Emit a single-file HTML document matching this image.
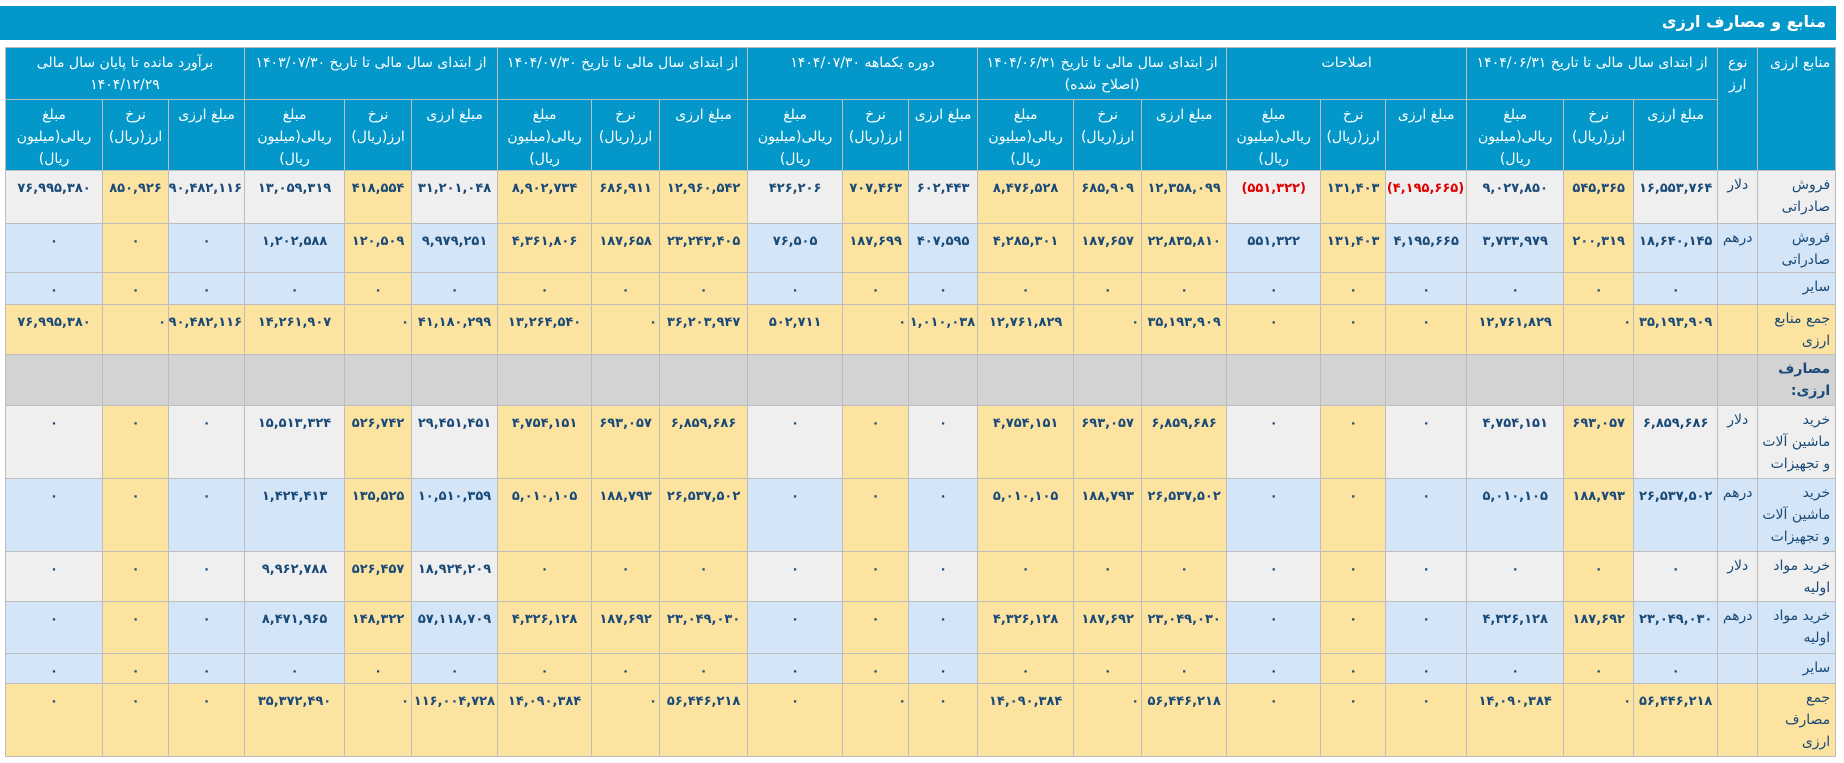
<!DOCTYPE html>
<html><head><meta charset="utf-8">
<style>
body{margin:0;width:1844px;height:763px;background:#fff;overflow:hidden;font-family:"DejaVu Sans","Liberation Sans",sans-serif;}
.bar{position:absolute;left:0;top:6px;width:1836px;height:34px;background:#0398c9;color:#fff;font-weight:bold;font-size:16px;direction:rtl;}
.bar span{position:absolute;right:10px;top:6px;}
table{position:absolute;left:5px;top:47px;width:1830px;border-collapse:collapse;table-layout:fixed;direction:rtl;}
th,td{border:1px solid #bdbdbd;padding:0 2px;overflow:hidden;}
th{background:#0398c9;color:#fff;font-weight:normal;font-size:14px;line-height:22px;vertical-align:top;text-align:center;padding-top:4px;}
td{font-size:13px;font-weight:bold;color:#1a4a78;vertical-align:top;text-align:center;padding-top:8px;line-height:20px;white-space:nowrap;}
td:first-child{text-align:right;font-weight:normal;font-size:14px;white-space:normal;padding-right:5px;padding-top:3px;line-height:22px;}
td:nth-child(2){font-weight:normal;font-size:14px;padding-top:4px;}
tr.g td{background:#efefef;}
tr.b td{background:#d3e5f6;}
tr.t td{background:#fde3a0;}
tr.s td{background:#d3d3d3;}
tr.g td:nth-child(4),tr.g td:nth-child(7),tr.g td:nth-child(9),tr.g td:nth-child(10),tr.g td:nth-child(11),tr.g td:nth-child(13),tr.g td:nth-child(15),tr.g td:nth-child(16),tr.g td:nth-child(17),tr.g td:nth-child(19),tr.g td:nth-child(22),
tr.b td:nth-child(4),tr.b td:nth-child(7),tr.b td:nth-child(9),tr.b td:nth-child(10),tr.b td:nth-child(11),tr.b td:nth-child(13),tr.b td:nth-child(15),tr.b td:nth-child(16),tr.b td:nth-child(17),tr.b td:nth-child(19),tr.b td:nth-child(22){background:#fde3a0;}
.r{color:#e00000;}
td.z{text-align:right;}
</style></head><body>
<div class="bar"><span>منابع و مصارف ارزی</span></div>
<table>
<colgroup>
<col style="width:78px"><col style="width:40px">
<col style="width:84px"><col style="width:70px"><col style="width:97px">
<col style="width:81px"><col style="width:65px"><col style="width:94px">
<col style="width:85px"><col style="width:68px"><col style="width:96px">
<col style="width:69px"><col style="width:66px"><col style="width:95px">
<col style="width:88px"><col style="width:68px"><col style="width:94px">
<col style="width:86px"><col style="width:67px"><col style="width:100px">
<col style="width:76px"><col style="width:66px"><col style="width:97px">
</colgroup>
<tr style="height:52px">
<th rowspan="2" style="text-align:right;padding-right:5px">منابع ارزی</th>
<th rowspan="2">نوع ارز</th>
<th colspan="3">از ابتدای سال مالی تا تاریخ ۱۴۰۴/۰۶/۳۱</th>
<th colspan="3">اصلاحات</th>
<th colspan="3">از ابتدای سال مالی تا تاریخ ۱۴۰۴/۰۶/۳۱ (اصلاح شده)</th>
<th colspan="3">دوره یکماهه ۱۴۰۴/۰۷/۳۰</th>
<th colspan="3">از ابتدای سال مالی تا تاریخ ۱۴۰۴/۰۷/۳۰</th>
<th colspan="3">از ابتدای سال مالی تا تاریخ ۱۴۰۳/۰۷/۳۰</th>
<th colspan="3">برآورد مانده تا پایان سال مالی ۱۴۰۴/۱۲/۲۹</th>
</tr>
<tr style="height:71px">
<th>مبلغ ارزی</th><th>نرخ ارز(ریال)</th><th>مبلغ ریالی(میلیون ریال)</th>
<th>مبلغ ارزی</th><th>نرخ ارز(ریال)</th><th>مبلغ ریالی(میلیون ریال)</th>
<th>مبلغ ارزی</th><th>نرخ ارز(ریال)</th><th>مبلغ ریالی(میلیون ریال)</th>
<th>مبلغ ارزی</th><th>نرخ ارز(ریال)</th><th>مبلغ ریالی(میلیون ریال)</th>
<th>مبلغ ارزی</th><th>نرخ ارز(ریال)</th><th>مبلغ ریالی(میلیون ریال)</th>
<th>مبلغ ارزی</th><th>نرخ ارز(ریال)</th><th>مبلغ ریالی(میلیون ریال)</th>
<th>مبلغ ارزی</th><th>نرخ ارز(ریال)</th><th>مبلغ ریالی(میلیون ریال)</th>
</tr>
<tr class="g" style="height:53px"><td>فروش صادراتی</td><td>دلار</td>
<td>۱۶,۵۵۳,۷۶۴</td><td>۵۴۵,۳۶۵</td><td>۹,۰۲۷,۸۵۰</td>
<td class="r">(۴,۱۹۵,۶۶۵)</td><td>۱۳۱,۴۰۳</td><td class="r">(۵۵۱,۳۲۲)</td>
<td>۱۲,۳۵۸,۰۹۹</td><td>۶۸۵,۹۰۹</td><td>۸,۴۷۶,۵۲۸</td>
<td>۶۰۲,۴۴۳</td><td>۷۰۷,۴۶۳</td><td>۴۲۶,۲۰۶</td>
<td>۱۲,۹۶۰,۵۴۲</td><td>۶۸۶,۹۱۱</td><td>۸,۹۰۲,۷۳۴</td>
<td>۳۱,۲۰۱,۰۴۸</td><td>۴۱۸,۵۵۴</td><td>۱۳,۰۵۹,۳۱۹</td>
<td>۹۰,۴۸۲,۱۱۶</td><td>۸۵۰,۹۲۶</td><td>۷۶,۹۹۵,۳۸۰</td></tr>
<tr class="b" style="height:49px"><td>فروش صادراتی</td><td>درهم</td>
<td>۱۸,۶۴۰,۱۴۵</td><td>۲۰۰,۳۱۹</td><td>۳,۷۳۳,۹۷۹</td>
<td>۴,۱۹۵,۶۶۵</td><td>۱۳۱,۴۰۳</td><td>۵۵۱,۳۲۲</td>
<td>۲۲,۸۳۵,۸۱۰</td><td>۱۸۷,۶۵۷</td><td>۴,۲۸۵,۳۰۱</td>
<td>۴۰۷,۵۹۵</td><td>۱۸۷,۶۹۹</td><td>۷۶,۵۰۵</td>
<td>۲۳,۲۴۳,۴۰۵</td><td>۱۸۷,۶۵۸</td><td>۴,۳۶۱,۸۰۶</td>
<td>۹,۹۷۹,۲۵۱</td><td>۱۲۰,۵۰۹</td><td>۱,۲۰۲,۵۸۸</td>
<td>۰</td><td>۰</td><td>۰</td></tr>
<tr class="b" style="height:32px"><td>سایر</td><td></td>
<td>۰</td><td>۰</td><td>۰</td><td>۰</td><td>۰</td><td>۰</td><td>۰</td><td>۰</td><td>۰</td><td>۰</td><td>۰</td><td>۰</td><td>۰</td><td>۰</td><td>۰</td><td>۰</td><td>۰</td><td>۰</td><td>۰</td><td>۰</td><td>۰</td></tr>
<tr class="t" style="height:50px"><td>جمع منابع ارزی</td><td></td>
<td>۳۵,۱۹۳,۹۰۹</td><td class="z">۰</td><td>۱۲,۷۶۱,۸۲۹</td>
<td>۰</td><td>۰</td><td>۰</td>
<td>۳۵,۱۹۳,۹۰۹</td><td class="z">۰</td><td>۱۲,۷۶۱,۸۲۹</td>
<td>۱,۰۱۰,۰۳۸</td><td class="z">۰</td><td>۵۰۲,۷۱۱</td>
<td>۳۶,۲۰۳,۹۴۷</td><td class="z">۰</td><td>۱۳,۲۶۴,۵۴۰</td>
<td>۴۱,۱۸۰,۲۹۹</td><td class="z">۰</td><td>۱۴,۲۶۱,۹۰۷</td>
<td>۹۰,۴۸۲,۱۱۶</td><td class="z">۰</td><td>۷۶,۹۹۵,۳۸۰</td></tr>
<tr class="s" style="height:51px"><td style="font-weight:bold">مصارف ارزی:</td><td></td>
<td></td><td></td><td></td><td></td><td></td><td></td><td></td><td></td><td></td><td></td><td></td><td></td><td></td><td></td><td></td><td></td><td></td><td></td><td></td><td></td><td></td></tr>
<tr class="g" style="height:73px"><td>خرید ماشین آلات و تجهیزات</td><td>دلار</td>
<td>۶,۸۵۹,۶۸۶</td><td>۶۹۳,۰۵۷</td><td>۴,۷۵۴,۱۵۱</td>
<td>۰</td><td>۰</td><td>۰</td>
<td>۶,۸۵۹,۶۸۶</td><td>۶۹۳,۰۵۷</td><td>۴,۷۵۴,۱۵۱</td>
<td>۰</td><td>۰</td><td>۰</td>
<td>۶,۸۵۹,۶۸۶</td><td>۶۹۳,۰۵۷</td><td>۴,۷۵۴,۱۵۱</td>
<td>۲۹,۴۵۱,۴۵۱</td><td>۵۲۶,۷۴۲</td><td>۱۵,۵۱۳,۳۲۴</td>
<td>۰</td><td>۰</td><td>۰</td></tr>
<tr class="b" style="height:73px"><td>خرید ماشین آلات و تجهیزات</td><td>درهم</td>
<td>۲۶,۵۳۷,۵۰۲</td><td>۱۸۸,۷۹۳</td><td>۵,۰۱۰,۱۰۵</td>
<td>۰</td><td>۰</td><td>۰</td>
<td>۲۶,۵۳۷,۵۰۲</td><td>۱۸۸,۷۹۳</td><td>۵,۰۱۰,۱۰۵</td>
<td>۰</td><td>۰</td><td>۰</td>
<td>۲۶,۵۳۷,۵۰۲</td><td>۱۸۸,۷۹۳</td><td>۵,۰۱۰,۱۰۵</td>
<td>۱۰,۵۱۰,۳۵۹</td><td>۱۳۵,۵۲۵</td><td>۱,۴۲۴,۴۱۳</td>
<td>۰</td><td>۰</td><td>۰</td></tr>
<tr class="g" style="height:50px"><td>خرید مواد اولیه</td><td>دلار</td>
<td>۰</td><td>۰</td><td>۰</td><td>۰</td><td>۰</td><td>۰</td><td>۰</td><td>۰</td><td>۰</td><td>۰</td><td>۰</td><td>۰</td><td>۰</td><td>۰</td><td>۰</td>
<td>۱۸,۹۲۴,۲۰۹</td><td>۵۲۶,۴۵۷</td><td>۹,۹۶۲,۷۸۸</td>
<td>۰</td><td>۰</td><td>۰</td></tr>
<tr class="b" style="height:52px"><td>خرید مواد اولیه</td><td>درهم</td>
<td>۲۳,۰۴۹,۰۳۰</td><td>۱۸۷,۶۹۲</td><td>۴,۳۲۶,۱۲۸</td>
<td>۰</td><td>۰</td><td>۰</td>
<td>۲۳,۰۴۹,۰۳۰</td><td>۱۸۷,۶۹۲</td><td>۴,۳۲۶,۱۲۸</td>
<td>۰</td><td>۰</td><td>۰</td>
<td>۲۳,۰۴۹,۰۳۰</td><td>۱۸۷,۶۹۲</td><td>۴,۳۲۶,۱۲۸</td>
<td>۵۷,۱۱۸,۷۰۹</td><td>۱۴۸,۳۲۲</td><td>۸,۴۷۱,۹۶۵</td>
<td>۰</td><td>۰</td><td>۰</td></tr>
<tr class="b" style="height:30px"><td>سایر</td><td></td>
<td>۰</td><td>۰</td><td>۰</td><td>۰</td><td>۰</td><td>۰</td><td>۰</td><td>۰</td><td>۰</td><td>۰</td><td>۰</td><td>۰</td><td>۰</td><td>۰</td><td>۰</td><td>۰</td><td>۰</td><td>۰</td><td>۰</td><td>۰</td><td>۰</td></tr>
<tr class="t" style="height:73px"><td>جمع مصارف ارزی</td><td></td>
<td>۵۶,۴۴۶,۲۱۸</td><td class="z">۰</td><td>۱۴,۰۹۰,۳۸۴</td>
<td>۰</td><td>۰</td><td>۰</td>
<td>۵۶,۴۴۶,۲۱۸</td><td class="z">۰</td><td>۱۴,۰۹۰,۳۸۴</td>
<td>۰</td><td class="z">۰</td><td>۰</td>
<td>۵۶,۴۴۶,۲۱۸</td><td class="z">۰</td><td>۱۴,۰۹۰,۳۸۴</td>
<td>۱۱۶,۰۰۴,۷۲۸</td><td class="z">۰</td><td>۳۵,۳۷۲,۴۹۰</td>
<td>۰</td><td>۰</td><td>۰</td></tr>
</table>
</body></html>
